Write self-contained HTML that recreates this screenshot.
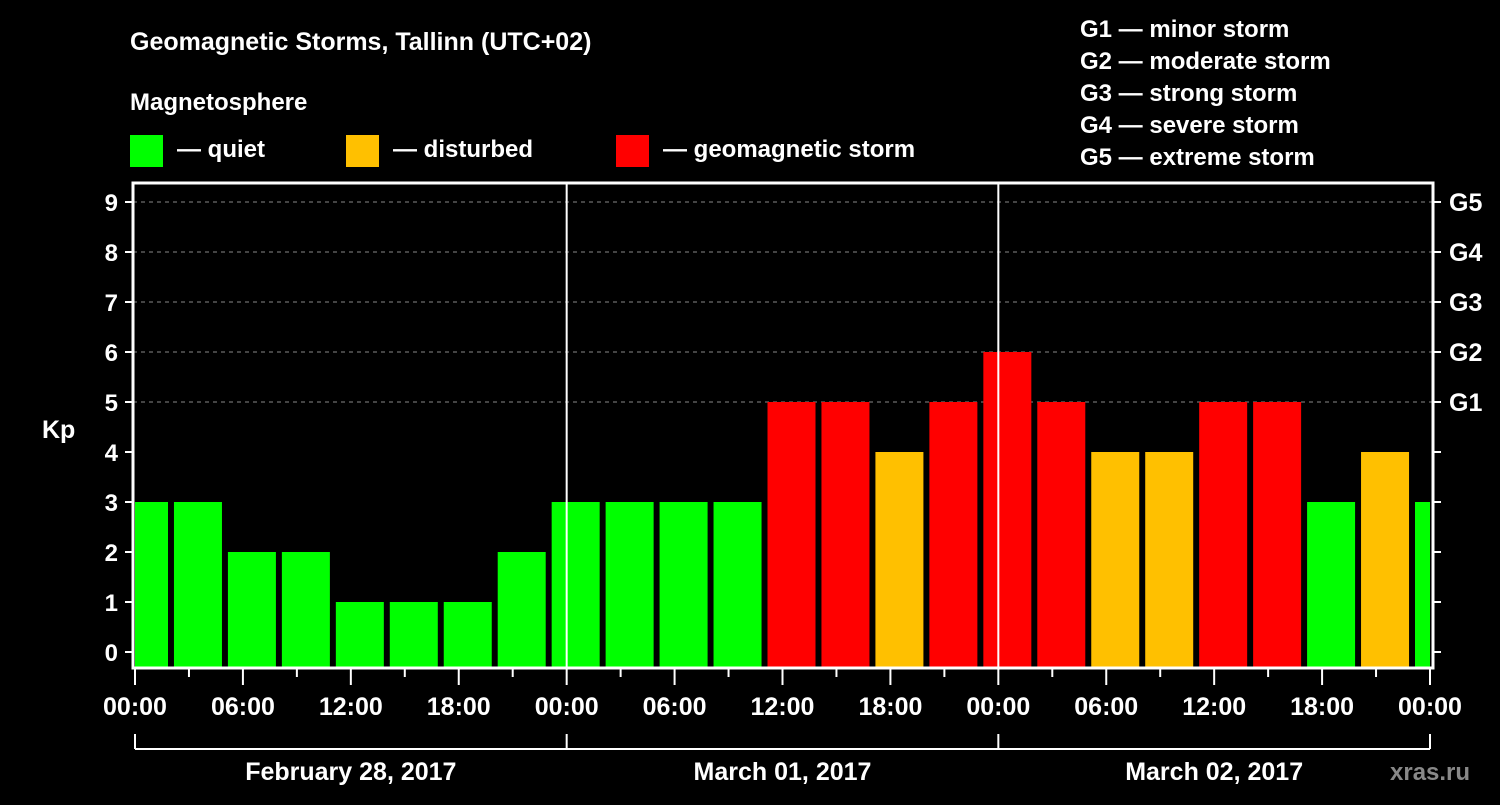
<!DOCTYPE html>
<html><head><meta charset="utf-8"><style>
body{margin:0;background:#000;width:1500px;height:800px;overflow:hidden}
svg{font-family:"Liberation Sans",sans-serif;font-weight:bold}
</style></head><body>
<svg id="c" width="1500" height="800">
<text x="130" y="50" fill="#fff" font-size="25">Geomagnetic Storms, Tallinn (UTC+02)</text>
<text x="130" y="110" fill="#fff" font-size="24">Magnetosphere</text>
<rect x="130" y="135" width="33" height="32" fill="#00ff00"/>
<text x="177" y="157" fill="#fff" font-size="24">— quiet</text>
<rect x="346" y="135" width="33" height="32" fill="#ffc000"/>
<text x="393" y="157" fill="#fff" font-size="24">— disturbed</text>
<rect x="616" y="135" width="33" height="32" fill="#ff0000"/>
<text x="663" y="157" fill="#fff" font-size="24">— geomagnetic storm</text>
<g fill="#fff" font-size="24">
<text x="1080" y="37">G1 — minor storm</text>
<text x="1080" y="69">G2 — moderate storm</text>
<text x="1080" y="101">G3 — strong storm</text>
<text x="1080" y="133">G4 — severe storm</text>
<text x="1080" y="165">G5 — extreme storm</text>
</g>
<text x="42" y="438" fill="#fff" font-size="25">Kp</text>
<text x="1390" y="780" fill="#888" font-size="24">xras.ru</text>
<g id="plot"></g>
</svg>
<script>
const kpValues=[3,3,2,2,1,1,1,2,3,3,3,3,5,5,4,5,6,5,4,4,5,5,3,4,3];
const yTicks=[0,1,2,3,4,5,6,7,8,9];
const gLabels=["G1","G2","G3","G4","G5"];
const xTickLabels=["00:00","06:00","12:00","18:00","00:00","06:00","12:00","18:00","00:00","06:00","12:00","18:00","00:00"];
const dateLabels=["February 28, 2017","March 01, 2017","March 02, 2017"];
const L=133,R=1433,T=183,B=668;
const x0=135,x1=1430,hours=72;
const X=h=>x0+(x1-x0)*h/hours;
const Y=v=>652-50*v;
const g=document.getElementById('plot');
const NS='http://www.w3.org/2000/svg';
function mk(t,a,parent){const e=document.createElementNS(NS,t);for(const k in a)e.setAttribute(k,a[k]);(parent||g).appendChild(e);return e;}
// gridlines
yTicks.forEach(v=>{if(v>=5){const l=mk('line',{x1:L,x2:R,y1:Y(v),y2:Y(v),stroke:'#888','stroke-dasharray':'4,4','stroke-width':1});

}});
// bars
kpValues.forEach((v,i)=>{const c=v>=5?'#ff0000':v==4?'#ffc000':'#00ff00';
const cx=X(i*3)+9;let a=Math.max(cx-24,L+2),b=Math.min(cx+24,R-3);
const r=mk('rect',{x:a,y:Y(v),width:b-a,height:B-Y(v),fill:c});

});
// day separators
[24,48].forEach(h=>{const l=mk('line',{x1:X(h),x2:X(h),y1:T,y2:B,stroke:'#fff','stroke-width':2});

});
// frame
const f=mk('rect',{x:L,y:T,width:R-L,height:B-T,fill:'none',stroke:'#fff','stroke-width':3});


// y ticks
yTicks.forEach(v=>{mk('line',{x1:L-8,x2:L,y1:Y(v),y2:Y(v),stroke:'#fff','stroke-width':2});
mk('line',{x1:R,x2:R+8,y1:Y(v),y2:Y(v),stroke:'#fff','stroke-width':2});
const t=mk('text',{x:L-15,y:Y(v)+9,fill:'#fff','font-size':24,'text-anchor':'end'});t.textContent=v;

});
gLabels.forEach((s,i)=>{const t=mk('text',{x:1449,y:Y(i+5)+9,fill:'#fff','font-size':25});t.textContent=s;

});
// x ticks
for(let h=0;h<=hours;h+=3){mk('line',{x1:X(h),x2:X(h),y1:B,y2:B+(h%6?9:17),stroke:'#fff','stroke-width':2});}
xTickLabels.forEach((s,i)=>{const t=mk('text',{x:X(i*6),y:715,fill:'#fff','font-size':25,'text-anchor':'middle'});t.textContent=s;

});
// date bracket
mk('line',{x1:X(0),x2:X(72),y1:749,y2:749,stroke:'#fff','stroke-width':2});
[0,24,48,72].forEach(h=>mk('line',{x1:X(h),x2:X(h),y1:734,y2:749,stroke:'#fff','stroke-width':2}));
dateLabels.forEach((s,i)=>{const t=mk('text',{x:X(i*24+12),y:780,fill:'#fff','font-size':25,'text-anchor':'middle'});t.textContent=s;

});
</script>
</body></html>
